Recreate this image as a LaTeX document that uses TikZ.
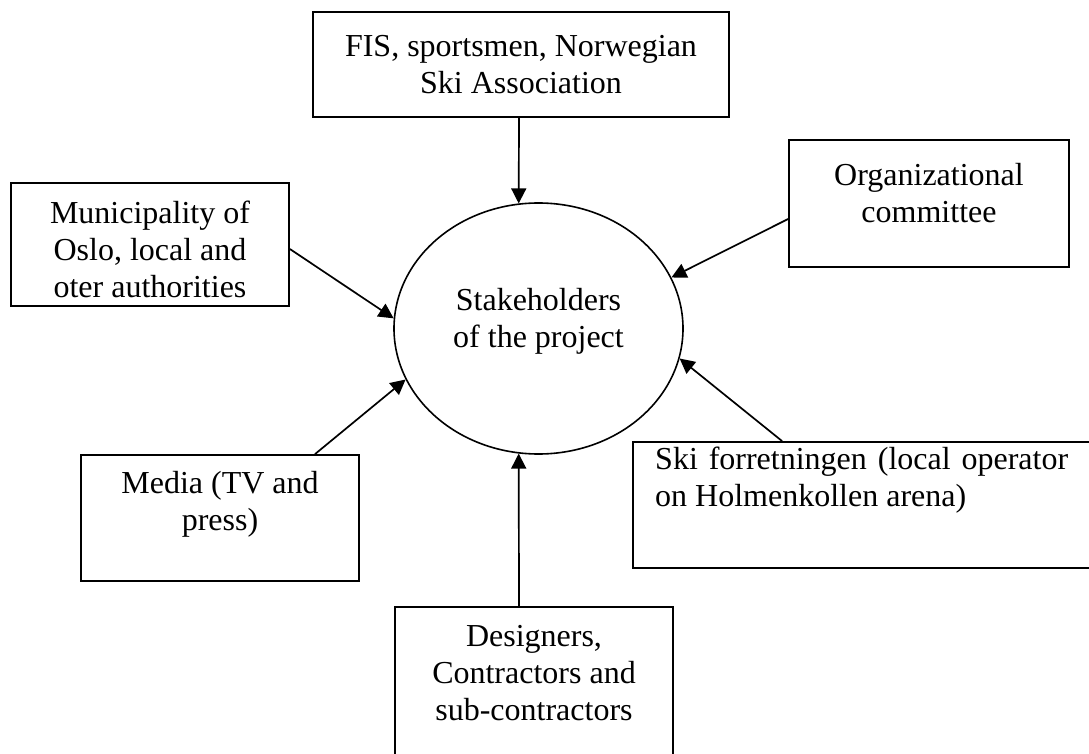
\documentclass[tikz,border=0pt]{standalone}
\usepackage{fontspec}
\setmainfont{Liberation Serif}
\usetikzlibrary{shapes.geometric,arrows.meta}
\begin{document}
\begin{tikzpicture}[x=1pt,y=-1pt,
  box/.style={draw, line width=1.8pt, rectangle, inner sep=0pt},
  txt/.style={inner sep=0pt, align=center, font=\fontsize{32}{37}\selectfont},
  arr/.style={line width=1.7pt, -{Triangle[length=15pt,width=15pt]}},
]
\useasboundingbox (0,0) rectangle (1089,754);
\fill[white] (0,0) rectangle (1089,754);

% boxes
\node[box, minimum width=416pt, minimum height=105pt] (fis) at (521,64.5) {};
\node[box, minimum width=278pt, minimum height=123pt] (mun) at (150,244.5) {};
\node[box, minimum width=280pt, minimum height=127pt] (org) at (929,203.5) {};
\node[box, minimum width=278pt, minimum height=126pt] (med) at (220,518) {};
\node[box, minimum width=467pt, minimum height=126pt] (ski) at (866.5,505) {};
\node[box, minimum width=278pt, minimum height=168pt] (des) at (534,691) {};
\node[draw, ellipse, line width=1.6pt, minimum width=289pt, minimum height=251pt, inner sep=0pt] (ell) at (538.5,328.5) {};

% texts
\node[txt] (fist) at (521,64.5) {FIS, sportsmen, Norwegian\\Ski Association};
\node[txt] (munt) at (150,249) {Municipality of\\Oslo, local and\\oter authorities};
\node[txt] (orgt) at (929,193) {Organizational\\committee};
\node[txt] (medt) at (220,504) {Media (TV and\\press)};
\node[txt, align=justify, text width=413pt, anchor=west] (skit) at (655,480.5) {Ski forretningen (local operator on Holmenkollen arena)};
\node[txt] (dest) at (534,673) {Designers,\\Contractors and\\sub-contractors};
\node[txt] (ellt) at (538.5,321.5) {Stakeholders\\of the project};

% connectors
\draw[arr] ([xshift=-2pt]fis.south) -- (ell.99);
\draw[arr] ([yshift=-4.5pt]mun.east) -- (ell.176);
\draw[arr] ([yshift=-15.5pt]org.west) -- (ell.21);
\draw[arr] ([xshift=95pt]med.north) -- (ell.201);
\draw[arr] ([xshift=150pt]ski.north west) -- (ell.348);
\draw[arr] ([xshift=-15pt]des.north) -- (ell.261);
\end{tikzpicture}
\end{document}
